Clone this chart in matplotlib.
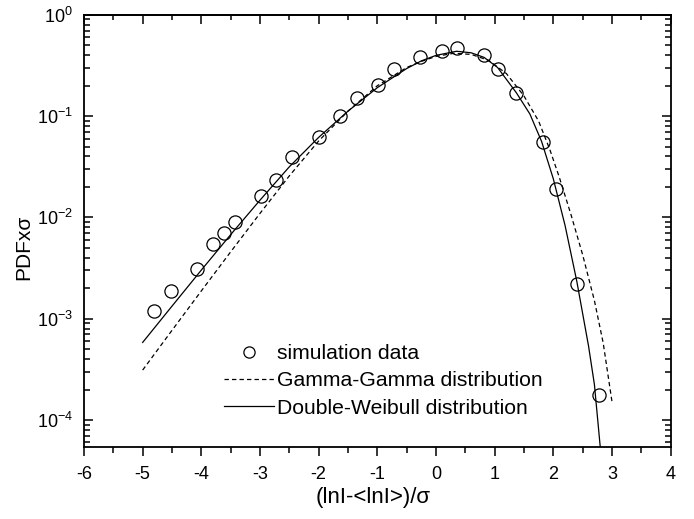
import matplotlib
matplotlib.use("Agg")
import matplotlib.pyplot as plt
from matplotlib.ticker import MultipleLocator, LogLocator, NullFormatter

plt.rcParams['font.family'] = ['Liberation Sans', 'DejaVu Sans']
plt.rcParams['axes.unicode_minus'] = False

# simulation data (circles)
sim_x = [-4.80, -4.51, -4.07, -3.80, -3.62, -3.43, -2.99, -2.72, -2.45, -2.00,
         -1.63, -1.35, -0.99, -0.72, -0.27, 0.10, 0.36, 0.82, 1.05, 1.37,
         1.83, 2.04, 2.40, 2.77]
sim_y = [1.19e-3, 1.87e-3, 3.07e-3, 5.5e-3, 7.0e-3, 9.0e-3, 0.0161, 0.0233, 0.0394, 0.0625,
         0.100, 0.152, 0.201, 0.291, 0.385, 0.441, 0.466, 0.397, 0.291, 0.168,
         0.055, 0.019, 0.0022, 1.76e-4]

# Gamma-Gamma curve (dashed)
gg_x = [-5.0, -4.5, -4.0, -3.5, -3.0, -2.5, -2.0, -1.5, -1.0, -0.5, -0.25, 0.0,
        0.3, 0.6, 0.9, 1.2, 1.5, 1.75, 1.94, 2.1, 2.3, 2.5, 2.7, 2.85, 3.0]
gg_y = [3.11e-4, 7.67e-4, 1.88e-3, 4.57e-3, 0.01096, 0.0257, 0.0569, 0.112, 0.1995, 0.302, 0.347, 0.389,
        0.417, 0.407, 0.355, 0.263, 0.158, 0.0891, 0.0468, 0.0251, 0.0107, 4.27e-3, 1.51e-3, 5.75e-4, 1.51e-4]

# Double-Weibull curve (solid)
dw_x = [-5.0, -4.5, -4.0, -3.5, -3.0, -2.5, -2.0, -1.5, -1.0, -0.5, -0.25, 0.0,
        0.35, 0.6, 0.82, 1.05, 1.37, 1.6, 1.8, 2.0, 2.2, 2.4, 2.6, 2.7, 2.8]
dw_y = [5.83e-4, 1.33e-3, 3.02e-3, 6.76e-3, 0.0148, 0.0316, 0.0617, 0.112, 0.191, 0.295, 0.351, 0.398,
        0.437, 0.422, 0.380, 0.302, 0.170, 0.105, 0.0562, 0.0240, 8.32e-3, 2.34e-3, 5.37e-4, 2.24e-4, 5.37e-5]

fig = plt.figure(figsize=(6.94, 5.19), dpi=100)
ax = fig.add_axes([0.121, 0.139, 0.8454, 0.8324])

ax.plot(sim_x, sim_y, 'o', mfc='none', mec='black', ms=9.5, mew=0.9,
        label='simulation data')
ax.plot(gg_x, gg_y, color='black', lw=0.9, ls=(0, (3.5, 2.5)),
        label='Gamma-Gamma distribution')
ax.plot(dw_x, dw_y, color='black', lw=0.9, label='Double-Weibull distribution')

ax.set_yscale('log')
ax.set_xlim(-6, 4)
ax.set_ylim(5.43e-5, 1)

ax.xaxis.set_major_locator(MultipleLocator(1))
ax.xaxis.set_minor_locator(MultipleLocator(0.5))
ax.yaxis.set_major_locator(LogLocator(base=10))
ax.yaxis.set_minor_locator(LogLocator(base=10, subs=range(2, 10)))

# bottom ticks point out, left/right ticks point in
ax.tick_params(axis='x', which='both', direction='out', top=False, labelsize=13, width=1.1, pad=7)
ax.tick_params(axis='y', which='both', direction='in', right=True, labelsize=13, width=1.1, pad=8)
ax.tick_params(which='major', length=6.5)
ax.tick_params(which='minor', length=4)

# top ticks point in
top = ax.secondary_xaxis('top')
top.xaxis.set_major_locator(MultipleLocator(1))
top.xaxis.set_minor_locator(MultipleLocator(0.5))
top.xaxis.set_major_formatter(NullFormatter())
top.tick_params(which='both', direction='in', width=1.1)
top.tick_params(which='major', length=6.5)
top.tick_params(which='minor', length=3.6)
top.spines['top'].set_linewidth(1.3)

for s in ax.spines.values():
    s.set_linewidth(1.3)

ax.set_xlabel('(lnI-<lnI>)/σ', fontsize=16)
ax.xaxis.set_label_coords(0.4934, -0.092)
ax.xaxis.label.set_va('top')
ax.set_ylabel('PDFxσ', fontsize=15)
ax.yaxis.set_label_coords(-0.0864, 0.462)

ax.legend(loc='upper left', bbox_to_anchor=(0.238, 0.237), frameon=False,
          fontsize=15.2, handlelength=2.4, handletextpad=0.15,
          labelspacing=0.38, borderpad=0, borderaxespad=0, markerscale=0.85)

fig.savefig('out.png', dpi=100)
